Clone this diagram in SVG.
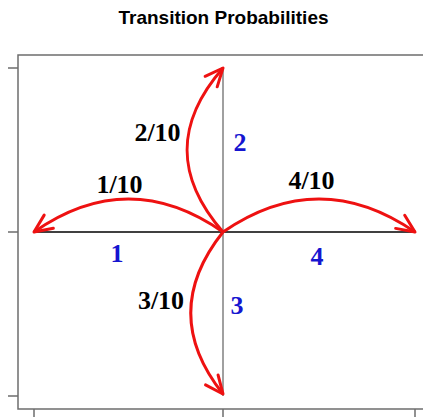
<svg xmlns="http://www.w3.org/2000/svg" width="423" height="417" viewBox="0 0 423 417">
<style>
.ax{stroke:#6e6e6e;stroke-width:1.5;fill:none}
.arc{stroke:#ee1111;stroke-width:3;fill:none;marker-end:url(#ah)}
.prob{font-family:"Liberation Serif",serif;font-weight:bold;font-size:26px;fill:#000;text-anchor:middle}
.st{font-family:"Liberation Serif",serif;font-weight:bold;font-size:26px;fill:#1515d0;text-anchor:middle}
.title{font-family:"Liberation Sans",Arial,sans-serif;font-weight:bold;font-size:19px;fill:#000;text-anchor:middle}
</style>
<defs>
<marker id="ah" markerUnits="userSpaceOnUse" markerWidth="30" markerHeight="30" refX="0" refY="0" viewBox="-20 -15 30 30" orient="auto" overflow="visible">
<path d="M -18 -8 L 0 0 L -18 8" stroke="#ee1111" stroke-width="3" fill="none" stroke-linecap="round" stroke-linejoin="round"/>
</marker>
</defs>
<rect width="423" height="417" fill="#fff"/>
<text class="title" x="223.5" y="24">Transition Probabilities</text>
<g id="axes">
<path class="ax" d="M 423 55 L 18 55 L 18 409 L 423 409"/>
<path class="ax" d="M 8 68 H 18 M 8 232 H 18 M 8 396 H 18"/>
<path class="ax" d="M 34 409 V 417 M 223 409 V 417 M 415 409 V 417"/>
<line x1="34" y1="232" x2="415" y2="232" stroke="#000" stroke-width="1.5"/>
<line x1="223" y1="68" x2="223" y2="396" stroke="#808080" stroke-width="1.5"/>
</g>
<g id="connectors">
<path class="arc" d="M 223 232 C 160 188 97 188 34 232"/>
<path class="arc" d="M 223 232 C 287 188 351 188 415 232"/>
<path class="arc" d="M 223 232 C 175 177 175 123 223 68"/>
<path class="arc" d="M 223 232 C 180 286 180 340 223 394"/>
</g>
<g id="labels">
<text class="prob" x="119.5" y="193">1/10</text>
<text class="prob" x="157.5" y="141">2/10</text>
<text class="prob" x="311.5" y="189">4/10</text>
<text class="prob" x="161" y="309">3/10</text>
</g>
<g id="state1"><text class="st" x="117" y="262">1</text></g>
<g id="state2"><text class="st" x="240" y="151">2</text></g>
<g id="state3"><text class="st" x="237" y="314">3</text></g>
<g id="state4"><text class="st" x="317" y="265">4</text></g>
</svg>
